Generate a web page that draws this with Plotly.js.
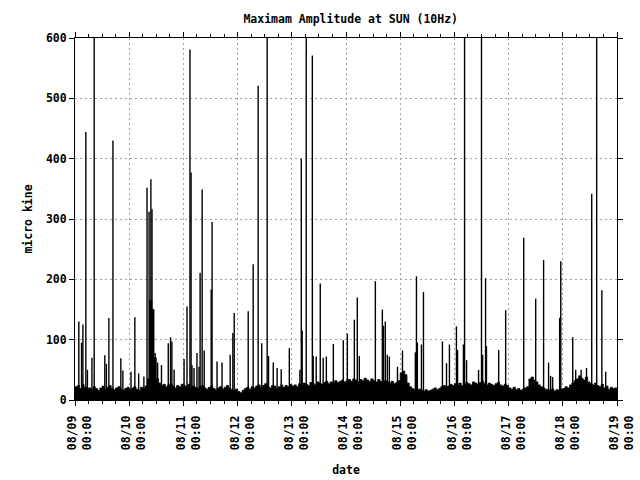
<!DOCTYPE html>
<html>
<head>
<meta charset="utf-8">
<script src="https://cdn.plot.ly/plotly-3.0.1.min.js"></script>
<style>html,body{margin:0;padding:0;background:#fff;}#chart{width:640px;height:480px;}</style>
</head>
<body>
<div id="chart"></div>
<script>
// ---- data (hours since 08/09 00:00) ----
var startDate = "2021-08-09";
var dayLabels = ["08/09","08/10","08/11","08/12","08/13","08/14","08/15","08/16","08/17","08/18","08/19"];

// hourly background level (micro kine), 240 hours
var baseline = [
 22,24,19,26,21,18,20,17,22,19,16,20,23,18,21,24,19,17,20,22,18,16,19,21,
 17,20,22,18,16,21,19,23,35,165,150,70,35,28,24,26,22,25,27,23,20,24,22,26,
 24,22,26,20,23,21,19,22,24,20,18,21,23,19,17,20,22,18,21,24,20,17,15,18,
 14,12,16,19,21,18,22,20,23,25,21,24,27,22,20,24,23,19,22,25,21,24,22,26,
 23,25,22,27,24,28,26,24,29,27,25,30,28,26,29,31,27,30,28,32,29,31,33,30,
 32,34,31,35,33,30,34,32,36,33,31,35,32,30,34,31,29,32,30,28,31,27,29,32,
 45,48,42,28,22,19,17,15,18,16,14,17,15,16,18,20,17,19,22,24,21,23,26,24,
 27,25,28,24,26,29,27,25,30,28,26,29,31,27,25,28,26,24,27,29,25,23,26,24,
 20,18,21,17,19,16,18,20,22,35,38,33,30,25,22,20,18,17,16,18,15,17,16,18,
 19,22,20,25,28,32,35,40,36,33,38,30,27,25,28,24,22,26,20,23,18,21,19,20
];

// individual spikes: time (hours) and peak amplitude
var spikeHours = [
 1.7,2.9,3.5,4.8,5.5,7.5,8.5,13.2,13.9,15.0,16.8,20.3,21.2,24.8,26.5,28.2,30.5,
 31.9,32.8,33.6,34.1,35.5,36.6,38.3,41.3,42.3,42.9,43.9,48.3,
 49.6,50.9,51.4,51.8,52.7,54.0,54.9,55.4,56.3,57.2,60.3,60.7,62.9,65.1,68.7,69.9,70.5,
 76.7,78.9,81.1,82.7,85.1,85.7,87.8,89.5,91.3,94.9,
 99.6,100.2,100.6,102.4,105.1,105.5,106.8,108.6,109.9,111.3,114.4,118.8,120.6,123.7,125.0,125.9,
 133.0,136.1,136.6,137.4,138.3,139.2,142.8,145.0,
 150.7,151.2,151.6,153.4,154.3,162.7,164.5,165.8,168.9,169.4,172.0,172.5,173.4,178.7,180.0,180.5,
 181.8,182.2,187.6,190.7,
 198.7,204.0,207.5,209.7,210.6,211.5,214.6,215.1,220.4,221.7,224.1,226.5,228.8,231.0,233.3,235.0
];
var spikeValues = [
 130,95,125,444,50,70,700,74,60,136,430,69,49,47,137,44,39,
 352,312,366,316,78,62,58,94,104,97,50,68,
 155,581,377,58,53,78,55,211,349,82,183,295,64,62,75,111,144,
 147,225,521,94,700,73,62,53,51,86,
 50,400,115,700,571,73,72,193,70,72,93,99,110,133,170,73,
 197,150,123,130,75,72,55,82,
 79,205,95,92,179,97,61,92,122,83,92,700,66,50,700,75,
 202,89,83,149,
 269,168,232,62,40,38,136,230,104,50,50,53,342,700,182,47
];

// ---- helpers ----
var t0 = Date.UTC(2021, 7, 9, 0, 0, 0);
function pad(n){ return (n < 10 ? "0" : "") + n; }
function hToDate(h){
  var d = new Date(t0 + Math.round(h * 3600000));
  return d.getUTCFullYear() + "-" + pad(d.getUTCMonth()+1) + "-" + pad(d.getUTCDate()) +
         " " + pad(d.getUTCHours()) + ":" + pad(d.getUTCMinutes()) + ":" + pad(d.getUTCSeconds());
}

var bx = [], by = [];
for (var i = 0; i < baseline.length; i++) { bx.push(hToDate(i)); by.push(baseline[i]); }
bx.push(hToDate(baseline.length)); by.push(baseline[baseline.length-1]);

var sx = [], sy = [];
for (var j = 0; j < spikeHours.length; j++) {
  var d = hToDate(spikeHours[j]);
  sx.push(d, d, null); sy.push(0, spikeValues[j], null);
}

var tickVals = [], tickText = [];
for (var k = 0; k < dayLabels.length; k++) {
  tickVals.push(hToDate(k * 24));
  tickText.push(dayLabels[k] + "<br>00:00");
}

var fnt = {family: "DejaVu Sans Mono, monospace", size: 11.5, color: "#000", weight: "bold"};

var traces = [
  {x: bx, y: by, type: "scatter", mode: "lines", line: {shape: "hv", color: "#000", width: 0.8},
   fill: "tozeroy", fillcolor: "#000", hoverinfo: "skip"},
  {x: sx, y: sy, type: "scatter", mode: "lines", line: {color: "#000", width: 1.4},
   connectgaps: false, hoverinfo: "skip"}
];

var layout = {
  width: 640, height: 480,
  margin: {l: 75, r: 23, t: 38, b: 80},
  paper_bgcolor: "#fff", plot_bgcolor: "#fff",
  showlegend: false,
  font: fnt,
  title: {text: "Maximam Amplitude at SUN (10Hz)", font: fnt, xref: "container", x: 0.548,
          yref: "container", y: 0.96, yanchor: "middle"},
  xaxis: {
    type: "date", range: [hToDate(0), hToDate(240)],
    tickmode: "array", tickvals: tickVals, ticktext: tickText, tickangle: -90,
    ticks: "outside", ticklen: 5, tickcolor: "#000", tickwidth: 1,
    ticklabelshift: 5, ticklabelstandoff: 5,
    showline: true, linecolor: "#000", linewidth: 1, mirror: "allticks",
    showgrid: true, gridcolor: "#a0a0a0", griddash: "2px,3px", gridwidth: 1,
    minor: {tick0: hToDate(0), dtick: 21600000, ticks: "outside", ticklen: 3, tickcolor: "#000", showgrid: false},
    zeroline: false, tickfont: fnt,
    title: {text: "date", font: fnt, standoff: 16}
  },
  yaxis: {
    range: [0, 600], tickmode: "linear", tick0: 0, dtick: 100,
    ticks: "outside", ticklen: 5, tickcolor: "#000", tickwidth: 1,
    showline: true, linecolor: "#000", linewidth: 1, mirror: "allticks",
    showgrid: true, gridcolor: "#a0a0a0", griddash: "2px,3px", gridwidth: 1,
    zeroline: false, tickfont: fnt,
    title: {text: "micro kine", font: fnt, standoff: 10}
  }
};

Plotly.newPlot("chart", traces, layout, {staticPlot: true, displayModeBar: false});
</script>
</body>
</html>
